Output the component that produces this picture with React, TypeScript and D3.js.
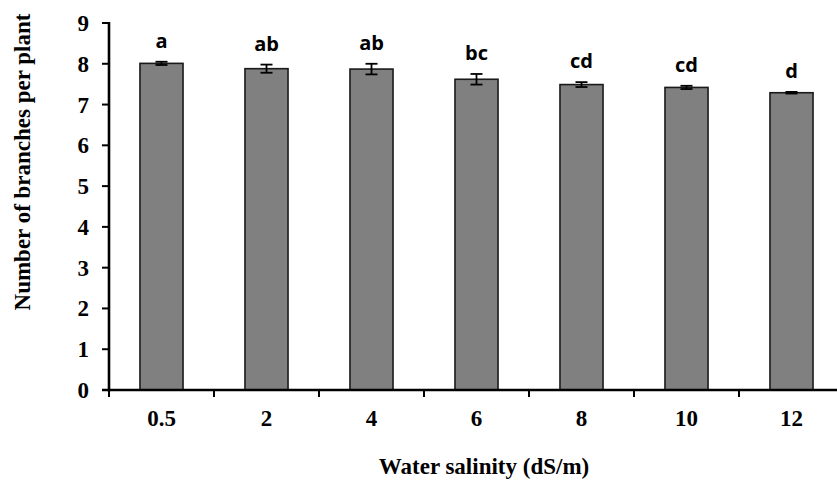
import React from "react";
import * as d3 from "d3";

const categories = ["0.5", "2", "4", "6", "8", "10", "12"];
const values = [8.01, 7.88, 7.87, 7.62, 7.49, 7.42, 7.29];
const errors = [0.04, 0.1, 0.13, 0.13, 0.06, 0.04, 0.02];
const letters = ["a", "ab", "ab", "bc", "cd", "cd", "d"];
const yTicks = [0, 1, 2, 3, 4, 5, 6, 7, 8, 9];

const W = 837;
const H = 482;
const X0 = 109;
const X1 = 844;
const Y0 = 390;
const Y1 = 23;

export default function App() {
  const x = d3
    .scaleBand<string>()
    .domain(categories)
    .range([X0, X1])
    .paddingInner(0.59)
    .paddingOuter(0.295);
  const y = d3.scaleLinear().domain([0, 9]).range([Y0, Y1]);
  const step = x.step();
  const serif = "'Liberation Serif', 'Times New Roman', serif";
  const sans = "'Open Sans', 'Liberation Sans', sans-serif";

  return (
    <div>
      <style>{"body{margin:0}"}</style>
      <svg width={W} height={H} style={{ display: "block", background: "#fff" }}>
        {categories.map((c, i) => {
          const bx = x(c)!;
          const bw = x.bandwidth();
          const cx = bx + bw / 2;
          const v = values[i];
          const e = errors[i];
          return (
            <g key={c}>
              <rect
                x={bx}
                y={y(v)}
                width={bw}
                height={y(0) - y(v)}
                fill="#808080"
                stroke="#1a1a1a"
                strokeWidth={1.6}
              />
              <line x1={cx} x2={cx} y1={y(v + e)} y2={y(v - e)} stroke="#000" strokeWidth={1.8} />
              <line x1={cx - 6} x2={cx + 6} y1={y(v + e)} y2={y(v + e)} stroke="#000" strokeWidth={1.8} />
              <line x1={cx - 6} x2={cx + 6} y1={y(v - e)} y2={y(v - e)} stroke="#000" strokeWidth={1.8} />
              <text
                x={cx}
                y={y(v + e) - 14}
                textAnchor="middle"
                fontFamily={sans}
                fontWeight="bold"
                fontSize={20}
                fill="#000"
              >
                {letters[i]}
              </text>
              <text
                x={cx}
                y={426}
                textAnchor="middle"
                fontFamily={serif}
                fontWeight="bold"
                fontSize={23}
                fill="#000"
              >
                {c}
              </text>
            </g>
          );
        })}

        {/* y axis */}
        <line x1={X0} x2={X0} y1={Y1 - 1} y2={Y0 + 1.5} stroke="#000" strokeWidth={2.6} />
        {yTicks.map((t) => (
          <g key={t}>
            <line x1={X0 - 7} x2={X0} y1={y(t)} y2={y(t)} stroke="#000" strokeWidth={2} />
            <text
              x={89}
              y={y(t) + 8}
              textAnchor="end"
              fontFamily={serif}
              fontWeight="bold"
              fontSize={23}
              fill="#000"
            >
              {t}
            </text>
          </g>
        ))}

        {/* x axis */}
        <line x1={X0 - 7} x2={X1} y1={Y0} y2={Y0} stroke="#000" strokeWidth={2.6} />
        {d3.range(categories.length + 1).map((i) => (
          <line
            key={i}
            x1={X0 + i * step}
            x2={X0 + i * step}
            y1={Y0}
            y2={Y0 + 7}
            stroke="#000"
            strokeWidth={2}
          />
        ))}

        <text
          x={484}
          y={474}
          textAnchor="middle"
          fontFamily={serif}
          fontWeight="bold"
          fontSize={23}
          fill="#000"
        >
          Water salinity (dS/m)
        </text>
        <text
          transform={`translate(30,162) rotate(-90)`}
          textAnchor="middle"
          fontFamily={serif}
          fontWeight="bold"
          fontSize={23}
          fill="#000"
        >
          Number of branches per plant
        </text>
      </svg>
    </div>
  );
}
